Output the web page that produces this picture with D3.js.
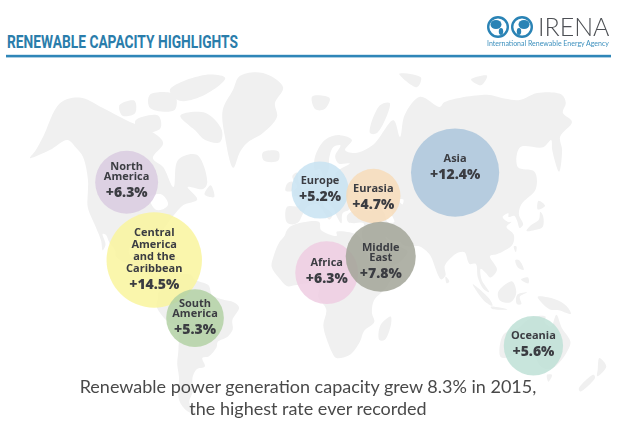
<!DOCTYPE html>
<html><head><meta charset="utf-8">
<script src="https://cdn.jsdelivr.net/npm/d3@7/dist/d3.min.js"></script>
<style>html,body{margin:0;padding:0;background:#fff}svg{display:block}</style>
</head><body><svg id="c" width="620" height="426"></svg>
<script>
// ---- data ----
const regions = ["North America","Central America and the Caribbean","South America","Europe","Eurasia","Asia","Africa","Middle East","Oceania"];
const growth = [6.3,14.5,5.3,5.2,4.7,12.4,6.3,7.8,5.6];
const centerLon = [-107.9,-83.1,-59.8,11,43.1,95.2,13.8,44.4,132.5];
const centerLat = [52.3,18,-12.8,49.8,47.4,55,11.5,19.7,-28.2];
const nameLines = [["North","America"],["Central","America","and the","Caribbean"],["South","America"],["Europe"],["Eurasia"],["Asia"],["Africa"],["Middle","East"],["Oceania"]];
const bubbleColors = ["#d9cbe0","#f9f59e","#b3d1a5","#c8e3f2","#f7dcba","#acc5dc","#efcde2","#a2a498","#bee1d6"];
const titleText = "RENEWABLE CAPACITY HIGHLIGHTS";
const captionLines = ["Renewable power generation capacity grew 8.3% in 2015,","the highest rate ever recorded"];

const northAmerica = [[-172,59],[-170,61],[-168,64.9],[-164.6,74.6],[-152.6,76.2],[-134.5,73.2],[-114,69.2],[-101.6,67.2],[-89.4,63.2],[-94.3,59],[-86.9,56.5],[-78.7,51],[-78.2,58.5],[-66.7,59.9],[-58.3,52.1],[-60.4,50.2],[-70,51],[-63,46],[-70.8,43.8],[-74.7,40.6],[-79,35.8],[-81,32],[-80,27],[-80.5,25],[-82,27],[-84,30],[-89,30],[-94,29.5],[-97,27],[-98,22],[-95,18.5],[-91,18.5],[-90.5,21],[-87,21],[-88,16],[-84,15.5],[-83.5,11],[-81,9],[-78,9.5],[-77,8],[-80,7.5],[-85,10],[-88,13],[-94,16],[-100,17],[-105,20],[-106,23],[-110,27],[-113,31],[-115,31.5],[-112,26],[-113,23],[-115,28],[-120,35],[-127.6,43],[-130,48.6],[-132,52.9],[-138.6,59.3],[-145,62],[-151.6,64],[-161,61.2]];
const southAmerica = [[-77,8],[-72,12],[-68,11],[-62,10.5],[-60,8],[-52,5],[-50,0],[-44,-2.5],[-38,-4],[-35,-7],[-39,-14],[-39,-19],[-42,-23],[-48,-26],[-49,-29],[-54,-34],[-58,-35],[-57,-38],[-62,-39],[-65,-42],[-66,-47],[-69,-51],[-66,-55],[-71,-54],[-75,-50],[-73,-42],[-73,-37],[-71,-30],[-70,-18],[-76,-14],[-81,-6],[-80,-2],[-80,1],[-77,4]];
const greenland = [[-27.7,82.7],[-13.2,79],[-18.4,74.6],[-16.7,70.6],[-25.5,66],[-35.4,63.2],[-39.5,60.7],[-43,56.3],[-50,64.9],[-53.4,72.6],[-47.9,78.3],[-44,81.9]];
const eurasia = [[-9,37],[-9,43],[-2,43.5],[-1,46],[-4.5,48.5],[2,50],[8,52],[8,54.5],[10.5,54.5],[10,52.5],[14,52.5],[20,53],[21,55],[24,56],[30,57.5],[23,57.5],[21,59.5],[24.7,62.5],[20,62],[17,58.5],[17,56.5],[14,53.5],[11,56],[8.2,55.5],[8.2,59.3],[14.8,64],[24.7,65.4],[32.3,64],[27.5,61.2],[33.8,60.4],[45.5,62.6],[60.7,69.7],[63.6,64.9],[68.7,71.2],[81.1,76.4],[93.2,73.5],[97.3,74.9],[127.6,77],[137.7,76],[148.8,75.5],[162.6,77.5],[179,77],[179.5,74.6],[175,71.8],[178.8,69.2],[167.5,64.9],[166,61.2],[160,55.2],[159.7,61.2],[161,64],[154.5,62],[139.7,62],[135,56.5],[144.7,55.2],[142.7,50.2],[131,44],[128,40],[129,36],[126.5,34.5],[126,37.5],[125,39.5],[121.5,39],[122,40.5],[118,39],[120.5,37],[122.5,37],[119,35],[122,31],[120,26],[114,22.5],[110,21],[106,20],[109,13],[105,9],[103,11],[100,13.5],[100,8],[104,1.5],[101,3],[98,9],[97.5,16],[94,16],[92,22],[89,22],[85,20],[80,15],[80,10],[77.5,8],[73,19],[72,21],[67,25],[61,25],[57,26],[56.5,27],[51,28],[48,30],[50,26],[51.5,24.5],[55,25],[56.5,24.5],[59.8,22.5],[55,17],[45,13],[43,13],[39,21],[35,28],[34.5,31.5],[36,36.5],[30,36.5],[27,37],[26.5,39.5],[29,41],[35,42],[41.5,41.5],[37,45],[33.5,44.5],[30,46],[28,42],[24,40.5],[23,36.5],[20,40],[19,42],[14,45],[12.5,44],[18,40],[16,38],[12,42],[9,44],[3,43],[0,39.5],[-2,37],[-5.5,36]];
const africa = [[-6,35.5],[10,37],[11,33.5],[20,30.5],[20,32.5],[32,31],[34,28],[37,21],[39,15],[43,11.5],[51,12],[47,4],[40,-3],[39,-10],[40.5,-15],[35,-20],[33,-26],[28,-33],[20,-35],[18,-33],[15,-27],[12,-17],[13.5,-8],[9,-1],[9.5,4],[5,6],[-4,5],[-8,4.5],[-13,9],[-17,14.5],[-16,20],[-13,27],[-10,30.5],[-9,33]];
const australia = [[114,-22],[122,-18],[126,-14],[130,-12],[136,-12],[136,-15],[140,-17.5],[142,-11],[146,-18],[153,-26],[153,-31],[150,-37],[146,-39],[140,-38],[136,-35],[131,-31.5],[124,-33],[118,-35],[115,-34]];
const islands = [
 [[-81.3,71],[-65,71.8],[-52.5,66.8],[-52.9,63.4],[-62.6,64],[-70,66.8]],
 [[-110.6,69.5],[-96,71],[-93,67.3],[-105.5,66.2]],
 [[-123.8,74],[-114.4,75.3],[-112,71.7],[-120,71]],
 [[-91.7,78.3],[-68.8,82.2],[-54.2,81.4],[-66.9,77],[-83.6,75.3]],
 [[-104.8,77],[-87.6,77],[-85.8,72.6],[-102.7,73.2]],
 [[-59,48],[-53,47],[-56,51.5]],
 [[-25,60.5],[-15,60.8],[-15,58.3],[-24,58.3]],
 [[-85,22],[-75,20],[-77,20],[-82,23]],
 [[-74,19.5],[-69,19],[-70,18],[-74,18]],
 [[49.5,-12],[50,-16],[47,-25],[44,-25],[44,-17]],
 [[-5,47.5],[1,48.5],[0,50],[-2,52.5],[-3,55],[-6,54],[-3,51],[-5,49.5]],
 [[-10,49.5],[-6,49.5],[-6,52.5],[-9,52]],
 [[7,76.5],[19,76],[15,72.8],[9,72.8]],
 [[44.4,66],[52.9,74],[59.7,74.6],[49,66]],
 [[119,81],[131,82],[125,79.5]],
 [[69,82.5],[84,81.5],[80,79]],
 [[130,33],[135,33.5],[140,35],[142,39.5],[141,41],[139,38],[133,35.5]],
 [[140,42],[145,43.5],[142,45.5]],
 [[120.5,25],[122,25],[121,22]],
 [[120,18],[122,18],[124,13],[121,14]],
 [[122,8],[126,9],[126,6]],
 [[95,5.5],[104,-2],[106,-6],[101,-3]],
 [[105,-6.5],[114.5,-8],[106,-7.8]],
 [[109,1.5],[117,7],[119,1],[116,-4],[110,-3]],
 [[119.5,0],[125,1.3],[121,-1],[122,-5],[119.5,-5]],
 [[131,-1],[141,-2.5],[147,-6],[150,-10.5],[143,-8.5],[138,-8],[133,-4]],
 [[145,-41],[148,-41],[147,-43.5]],
 [[173,-35],[178.5,-38],[175,-41.5],[174,-39]],
 [[172.5,-41],[174,-42],[168,-47],[166.5,-46]],
 [[80,9.5],[82,7],[80.5,6]]
];
const lakes = [
 [[47,45],[53,46],[53,40],[54,37],[50,37],[49,40],[47,43]],
 [[-92,47],[-85,48],[-80,44],[-83,42],[-87,42]],
 [[58,46],[61,46],[60,44]]
];

// ---- scales ----
const latScale = d3.scaleLinear().domain([-60,-35,0,35,51,64,77.5,84]).range([428,358,295,227,187,140,93,68]);
const lonScale = d3.scaleLinear().domain([-180,180]).range([-324,324]);
const cosShrink = d3.scaleLinear().domain([0,1]).range([0.75,1]);
const px = (lon,lat)=>302+lonScale(lon)*cosShrink(Math.cos(lat*Math.PI/180));
const py = lat=>latScale(lat);
const rScale = d3.scaleSqrt().domain([0,14.5]).range([0,47.7]);

const svg = d3.select("#c");
svg.append("rect").attr("width",620).attr("height",426).attr("fill","#fff");
const defs = svg.append("defs");
defs.append("filter").attr("id","soft").append("feGaussianBlur").attr("stdDeviation",0.6);
defs.append("filter").attr("id","softer").append("feGaussianBlur").attr("stdDeviation",0.3);

// map
const line = d3.line().x(d=>px(d[0],d[1])).y(d=>py(d[1])).curve(d3.curveCatmullRomClosed.alpha(0.5));
const mapG = svg.append("g").attr("filter","url(#soft)");
const landShapes = [northAmerica,southAmerica,greenland,eurasia,africa,australia,...islands];
mapG.selectAll("path.land").data(landShapes).join("path").attr("class","land").attr("d",line).attr("fill","#f0f0f0");
mapG.selectAll("path.lake").data(lakes).join("path").attr("class","lake").attr("d",line).attr("fill","#fff");

// header
svg.append("text").text(titleText).attr("x",7).attr("y",48)
  .attr("font-family","Roboto").attr("font-weight",700).attr("font-size",17.5).attr("fill","#2a7dab")
  .attr("textLength",231).attr("lengthAdjust","spacingAndGlyphs");
svg.append("rect").attr("x",6).attr("y",54.8).attr("width",605).attr("height",2.6).attr("fill","#2f86b8");

// logo
const logo = svg.append("g").attr("filter","url(#softer)");
[498,522].forEach((cx,i)=>{
  logo.append("circle").attr("cx",cx).attr("cy",27).attr("r",9.8).attr("fill","#fff").attr("stroke","#2a83b5").attr("stroke-width",2.4);
  logo.append("ellipse").attr("cx",cx+(i?2:-2)).attr("cy",24.5).attr("rx",5.5).attr("ry",4.6).attr("fill","#2a83b5");
  logo.append("ellipse").attr("cx",cx+(i?-3:3)).attr("cy",31.5).attr("rx",2.2).attr("ry",3.4).attr("fill","#2a83b5");
});
logo.append("text").text("IRENA").attr("x",538).attr("y",36).attr("font-family","Lato").attr("font-weight",300).attr("font-size",25).attr("fill","#4d5054");
logo.append("text").text("International Renewable Energy Agency").attr("x",487).attr("y",46).attr("font-family","Lato").attr("font-size",7).attr("fill","#3b8fbd");

// bubbles
const idx = d3.range(regions.length);
svg.append("g").selectAll("circle").data(idx).join("circle")
  .attr("cx",i=>px(centerLon[i],centerLat[i])).attr("cy",i=>py(centerLat[i]))
  .attr("r",i=>rScale(growth[i])).attr("fill",i=>bubbleColors[i]).attr("fill-opacity",0.85);

// labels: vertical layout relative to each bubble's centre
const firstLineDy = {"North America":-16.3,"Central America and the Caribbean":-28.3,"South America":-14.7,"Europe":-10,"Eurasia":-8.3,"Asia":-14.4,"Africa":-10.4,"Middle East":-10,"Oceania":-10.7};
const labels = svg.append("g").attr("text-anchor","middle").attr("font-family","'Open Sans'").attr("fill","#3b3c42").attr("filter","url(#softer)");
idx.forEach(i=>{
  const cx=px(centerLon[i],centerLat[i]), cy=py(centerLat[i]);
  const lead = nameLines[i].length===4?12:10;
  const t = labels.append("text").attr("y",cy+firstLineDy[regions[i]]+4);
  nameLines[i].forEach((s,k)=>{
    t.append("tspan").text(s).attr("x",cx).attr("dy",k?lead:0).attr("font-size",11).attr("font-weight",700);
  });
  t.append("tspan").text("+"+d3.format(".1f")(growth[i])+"%").attr("x",cx).attr("dy",16.8).attr("font-size",14).attr("font-weight",800);
});

// caption
const cap = svg.append("g").attr("text-anchor","middle").attr("font-family","Lato").attr("font-size",18).attr("fill","#4a4a4a").attr("filter","url(#softer)");
cap.append("text").attr("y",393).selectAll("tspan").data(captionLines).join("tspan").text(d=>d).attr("x",308).attr("dy",(d,k)=>k?21.5:0);
</script></body></html>
